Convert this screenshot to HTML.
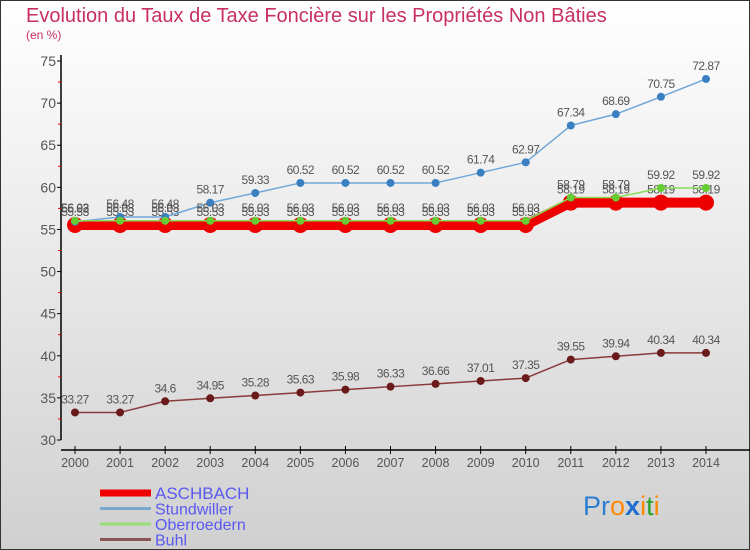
<!DOCTYPE html>
<html><head><meta charset="utf-8">
<style>
body{margin:0;padding:0;}
svg{display:block;font-family:"Liberation Sans","DejaVu Sans",sans-serif;}
</style></head>
<body>
<svg id="chart" width="750" height="550" viewBox="0 0 750 550">
<defs>
<linearGradient id="bg" x1="0" y1="0" x2="0" y2="1">
<stop offset="0" stop-color="#ffffff"/><stop offset="1" stop-color="#d0d0d0"/>
</linearGradient>
</defs>
<rect x="0.5" y="0.5" width="749" height="549" fill="url(#bg)" stroke="#333"/>
<text x="26" y="22" font-size="20" fill="#c8305f">Evolution du Taux de Taxe Foncière sur les Propriétés Non Bâties</text>
<text x="26" y="39" font-size="12" fill="#c8305f">(en %)</text>
<g id="axes"></g>
<g id="series"></g>
<g id="legend"></g>
<text x="583" y="515" font-size="27"><tspan fill="#2a7fd0">Pr</tspan><tspan fill="#ff8a00">o</tspan><tspan fill="#1e6fd0" font-weight="bold">x</tspan><tspan fill="#ff8a00">i</tspan><tspan fill="#2aa02a">t</tspan><tspan fill="#ff8a00">i</tspan></text>
</svg>
<script>
const years = [2000,2001,2002,2003,2004,2005,2006,2007,2008,2009,2010,2011,2012,2013,2014];
const yTicks = [30,35,40,45,50,55,60,65,70,75];
const aschbach = [55.53,55.53,55.53,55.53,55.53,55.53,55.53,55.53,55.53,55.53,55.53,58.19,58.19,58.19,58.19];
const stundwiller = [55.92,56.48,56.48,58.17,59.33,60.52,60.52,60.52,60.52,61.74,62.97,67.34,68.69,70.75,72.87];
const oberroedern = [56.03,56.03,56.03,56.03,56.03,56.03,56.03,56.03,56.03,56.03,56.03,58.79,58.79,59.92,59.92];
const buhl = [33.27,33.27,34.6,34.95,35.28,35.63,35.98,36.33,36.66,37.01,37.35,39.55,39.94,40.34,40.34];
const seriesNames = ["ASCHBACH","Stundwiller","Oberroedern","Buhl"];

const NS="http://www.w3.org/2000/svg";
function mk(tag,attrs,parent){const e=document.createElementNS(NS,tag);for(const k in attrs)e.setAttribute(k,attrs[k]);parent.appendChild(e);return e;}
function xS(i){return 75+i*(706-75)/(years.length-1);}
function yS(v){return 440-(v-30)*(440-61)/45;}

const axes=document.getElementById('axes');
let l=mk('line',{x1:61,y1:55,x2:61,y2:440,stroke:'#000','stroke-width':1.5},axes);


l=mk('line',{x1:61,y1:450,x2:750,y2:450,stroke:'#000','stroke-width':1.5},axes);


yTicks.forEach(v=>{
  mk('line',{x1:57,y1:yS(v),x2:61,y2:yS(v),stroke:'#000'},axes);
  if(v<75) mk('line',{x1:58,y1:yS(v+2.5),x2:61,y2:yS(v+2.5),stroke:'#e00'},axes);
  const t=mk('text',{x:56,y:yS(v)+5,'font-size':14,fill:'#555','text-anchor':'end'},axes);
  t.textContent=v;
  
  
});
years.forEach((y,i)=>{
  mk('line',{x1:xS(i),y1:446,x2:xS(i),y2:454,stroke:'#000'},axes);
  const t=mk('text',{x:xS(i),y:467,'font-size':12.5,fill:'#555','text-anchor':'middle'},axes);
  t.textContent=y;
  
  
});

const sg=document.getElementById('series');
function drawSeries(vals,color,width,r,ptColor,name,showLabels){
  const g=mk('g',{},sg);
  
  
  mk('polyline',{points:vals.map((v,i)=>xS(i)+','+yS(v)).join(' '),fill:'none',stroke:color,'stroke-width':width,'stroke-linejoin':'round'},g);
  vals.forEach((v,i)=>{
    const c=mk('circle',{cx:xS(i),cy:yS(v),r:r,fill:ptColor},g);
    
    
    if(showLabels){
      const t=mk('text',{x:xS(i),y:yS(v)-9,'font-size':12,fill:'#555','text-anchor':'middle','letter-spacing':'-0.5'},g);
      t.textContent=v;
      
      
    }
  });
}
drawSeries(aschbach,'#ee0000',10,8,'#ee0000','aschbach-series',true);
drawSeries(stundwiller,'#6fa8d8',1.5,4,'#3a80c0','stundwiller-series',true);
drawSeries(oberroedern,'#88dd55',1.5,4,'#66cc33','oberroedern-series',true);
drawSeries(buhl,'#8a3a3a',1.5,4,'#6a1a1a','buhl-series',true);

const lg=document.getElementById('legend');
const legColors=['#ee0000','#7aa8cc','#99dd77','#8a5555'];
const legWidths=[7,3,3,3];
seriesNames.forEach((n,i)=>{
  const y=493+i*15.5;
  const g=mk('g',{},lg);
  
  
  mk('line',{x1:100,y1:y,x2:151,y2:y,stroke:legColors[i],'stroke-width':legWidths[i]},g);
  const t=mk('text',{x:155,y:y+6,'font-size':i==0?17:16,fill:'#5a5af0'},g);
  t.textContent=n;
});
</script>
</body></html>
